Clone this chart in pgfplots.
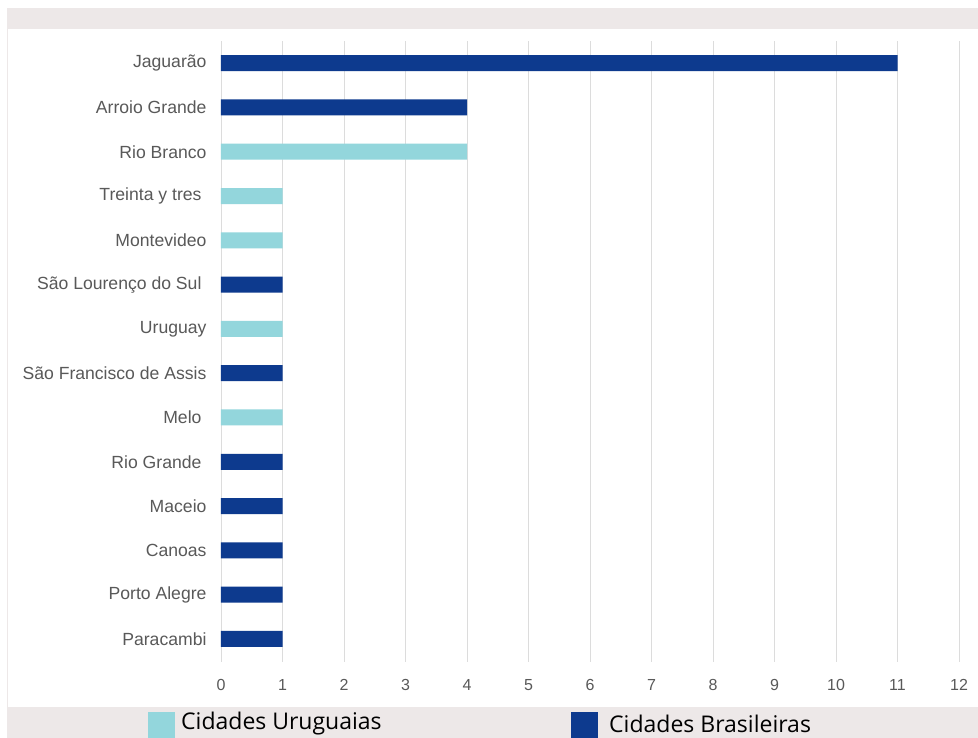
\documentclass[border=0pt]{standalone}
\usepackage{pgfplots}
\pgfplotsset{compat=1.18}
\usepackage{fontspec}
\setmainfont{Liberation Sans}
\newfontfamily\legfont{Open Sans}
\definecolor{bra}{HTML}{0D3A8E}
\definecolor{uru}{HTML}{93D6DC}
\definecolor{band}{HTML}{EDE8E8}
\definecolor{txt}{HTML}{595959}
\definecolor{gridc}{HTML}{DCDCDC}
\newcommand{\tsp}{\hspace*{5pt}}
\begin{document}
\begin{tikzpicture}[x=1pt,y=1pt]
\useasboundingbox (0,0) rectangle (978,738);
\fill[white] (0,0) rectangle (978,738);
\fill[band] (7,0) rectangle (978,730);
\fill[white] (8,31) rectangle (978,709);
\begin{axis}[
  at={(221pt,76pt)}, anchor=south west,
  scale only axis, width=738pt, height=621pt,
  xmin=0, xmax=12, ymin=-0.52, ymax=13.5,
  xbar, bar width=16pt, bar shift=0pt,
  axis line style={draw=none},
  major tick length=0pt,
  xtick={0,...,12},
  xmajorgrids=true, ymajorgrids=false,
  grid style={gridc, line width=0.9pt},
  ytick={0,...,13},
  yticklabels={Paracambi,Porto Alegre,Canoas,Maceio,Rio Grande\tsp,Melo\tsp,São Francisco de Assis,Uruguay,São Lourenço do Sul\tsp,Montevideo,Treinta y tres\tsp,Rio Branco,Arroio Grande,Jaguarão},
  yticklabel style={font=\fontsize{17.6}{20}\selectfont, text=txt, xshift=-11pt},
  xticklabel style={font=\fontsize{16}{18}\selectfont, text=txt, yshift=-14pt},
  /pgf/number format/assume math mode=true,
]
\addplot[fill=bra, draw=none] coordinates {(1,0) (1,1) (1,2) (1,3) (1,4) (1,6) (1,8) (4,12) (11,13)};
\addplot[fill=uru, draw=none] coordinates {(1,5) (1,7) (1,9) (1,10) (4,11)};
\end{axis}
\fill[uru] (148,-4) rectangle (175,26);
\node[anchor=west, inner sep=0pt, font=\legfont\fontsize{23}{25}\selectfont] at (181,14) {Cidades Uruguaias};
\fill[bra] (571,-4) rectangle (598,26);
\node[anchor=west, inner sep=0pt, font=\legfont\fontsize{23}{25}\selectfont] at (609,14) {Cidades Brasileiras};
\end{tikzpicture}
\end{document}
